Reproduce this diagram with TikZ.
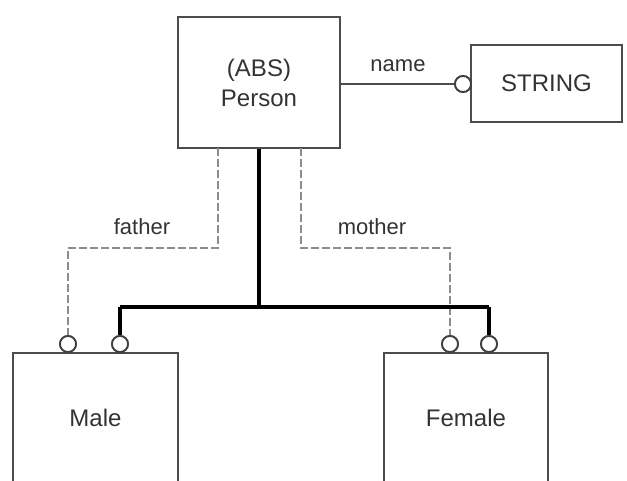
\documentclass[tikz,border=0pt]{standalone}
\usepackage{fontspec}
\setmainfont{Liberation Sans}
\begin{document}
\begin{tikzpicture}[x=1pt,y=-1pt,
  entity/.style={draw=black!70,line width=1.8pt,fill=white,inner sep=0pt,text=black!80,font=\fontsize{24}{30}\selectfont,align=center},
  lbl/.style={text=black!80,font=\fontsize{22}{26}\selectfont,inner sep=1pt},
  ring/.style={circle,draw=black!75,line width=1.8pt,fill=white,minimum size=16pt,inner sep=0pt},
  rel/.style={draw=black!70,line width=1.6pt},
  dashrel/.style={draw=black!45,line width=1.6pt,dash pattern=on 8pt off 3pt},
  isa/.style={draw=black,line width=3.8pt}]
\useasboundingbox (0,0) rectangle (627,481);
\clip (0,0) rectangle (627,481);
\node[entity,minimum width=162pt,minimum height=131pt] (person) at (259,82.5) {(ABS)\\Person};
\node[entity,minimum width=151pt,minimum height=77pt] (string) at (546.5,83.5) {STRING};
\node[entity,minimum width=165pt,minimum height=130pt] (male) at (95.5,418) {Male};
\node[entity,minimum width=164pt,minimum height=130pt] (female) at (466,418) {Female};
\coordinate (fj) at (218,148);
\coordinate (mj) at (301,148);
\coordinate (fk) at (218,248);
\coordinate (fl) at (68,248);
\coordinate (mk) at (301,248);
\coordinate (ml) at (450,248);
\coordinate (tj) at (259,307);
\coordinate (tl) at (120,307);
\coordinate (tr) at (489,307);
\node[ring] (rs) at (463,84) {};
\node[ring] (rf) at (68,344) {};
\node[ring] (rm) at (120,344) {};
\node[ring] (rmf) at (450,344) {};
\node[ring] (rfm) at (489,344) {};
\draw[rel] (person.east |- rs) -- (rs.west);
\draw[dashrel] (fj) -- (fk) -- (fl) -- (rf.north);
\draw[dashrel] (mj) -- (mk) -- (ml) -- (rmf.north);
\draw[isa] (person.south) -- (tj);
\draw[isa] (tl) -- (tr);
\draw[isa] (tl) -- (rm.north);
\draw[isa] (tr) -- (rfm.north);
\node[ring] at (rs) {};
\node[ring] at (rf) {};
\node[ring] at (rm) {};
\node[ring] at (rmf) {};
\node[ring] at (rfm) {};
\node[lbl] (ln) at (398,66) {name};
\node[lbl] (lf) at (142,227) {father};
\node[lbl] (lm) at (372,227) {mother};
\end{tikzpicture}
\end{document}
